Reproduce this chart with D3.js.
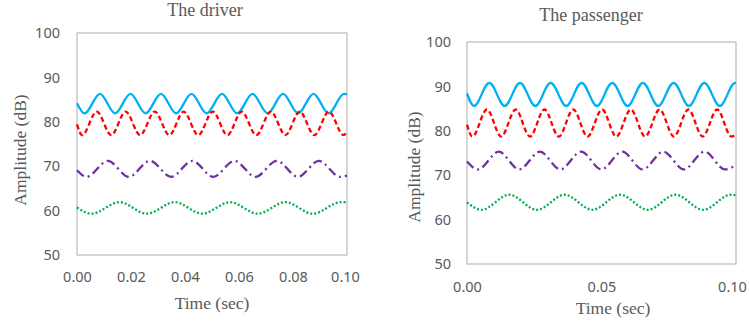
<!DOCTYPE html>
<html>
<head>
<meta charset="utf-8">
<script src="https://cdn.jsdelivr.net/npm/d3@7"></script>
<style>
  body { margin: 0; background: #ffffff; }
</style>
</head>
<body>
<div id="chart"></div>
<script>
// values: [time (s), amplitude (dB)] at start, troughs, peaks, end
var yTicks = [50, 60, 70, 80, 90, 100];
var driverXTicks = [0, 0.02, 0.04, 0.06, 0.08, 0.10];
var passengerXTicks = [0, 0.05, 0.10];

var driverBlue = [[0,84.2],[0.0028,81.9],[0.0085,86.3],[0.0141,81.9],[0.0198,86.3],[0.0254,81.9],[0.0311,86.3],[0.0367,81.9],[0.0424,86.3],[0.0480,81.9],[0.0537,86.3],[0.0593,81.9],[0.0650,86.3],[0.0706,81.9],[0.0763,86.3],[0.0819,81.9],[0.0876,86.3],[0.0932,81.9],[0.0989,86.3],[0.1,86.2]];
var driverRed = [[0,79.4],[0.0019,77.0],[0.0073,82.3],[0.0127,77.0],[0.0180,82.3],[0.0234,77.0],[0.0288,82.3],[0.0342,77.0],[0.0395,82.3],[0.0449,77.0],[0.0503,82.3],[0.0557,77.0],[0.0610,82.3],[0.0664,77.0],[0.0718,82.3],[0.0772,77.0],[0.0825,82.3],[0.0879,77.0],[0.0933,82.3],[0.0987,77.0],[0.1,77.7]];
var driverPurple = [[0,69.1],[0.0036,67.6],[0.0114,71.2],[0.0192,67.6],[0.0270,71.2],[0.0349,67.6],[0.0427,71.2],[0.0505,67.6],[0.0583,71.2],[0.0661,67.6],[0.0740,71.2],[0.0818,67.6],[0.0896,71.2],[0.0974,67.6],[0.1,67.9]];
var driverGreen = [[0,60.7],[0.0054,59.3],[0.0157,61.9],[0.0259,59.3],[0.0362,61.9],[0.0464,59.3],[0.0567,61.9],[0.0669,59.3],[0.0772,61.9],[0.0874,59.3],[0.0977,61.9],[0.1,61.9]];

var passengerBlue = [[0,88.4],[0.0026,85.6],[0.0083,90.8],[0.0140,85.6],[0.0197,90.8],[0.0254,85.6],[0.0311,90.8],[0.0369,85.6],[0.0426,90.8],[0.0483,85.6],[0.0540,90.8],[0.0597,85.6],[0.0654,90.8],[0.0711,85.6],[0.0768,90.8],[0.0825,85.6],[0.0882,90.8],[0.0940,85.6],[0.0997,90.8],[0.1,90.8]];
var passengerRed = [[0,81.4],[0.0020,78.7],[0.0074,84.8],[0.0127,78.7],[0.0181,84.8],[0.0234,78.7],[0.0288,84.8],[0.0341,78.7],[0.0395,84.8],[0.0448,78.7],[0.0502,84.8],[0.0555,78.7],[0.0609,84.8],[0.0662,78.7],[0.0716,84.8],[0.0769,78.7],[0.0823,84.8],[0.0876,78.7],[0.0930,84.8],[0.0983,78.7],[0.1,79.4]];
var passengerPurple = [[0,73.1],[0.0041,71.3],[0.0118,75.3],[0.0194,71.3],[0.0271,75.3],[0.0347,71.3],[0.0424,75.3],[0.0500,71.3],[0.0577,75.3],[0.0653,71.3],[0.0730,75.3],[0.0806,71.3],[0.0883,75.3],[0.0959,71.3],[0.1,72.3]];
var passengerGreen = [[0,63.9],[0.0054,62.2],[0.0157,65.6],[0.0260,62.2],[0.0363,65.6],[0.0466,62.2],[0.0569,65.6],[0.0672,62.2],[0.0775,65.6],[0.0878,62.2],[0.0981,65.6],[0.1,65.5]];

(function () {
  var width = 749,
    height = 324;

  var svg = d3.select("#chart")
    .append("svg")
    .attr("width", width)
    .attr("height", height)
    .style("font-family", '"Noto Sans", sans-serif')

  svg.append("rect")
    .attr("width", width)
    .attr("height", height)
    .attr("fill", "#ffffff")

  // line styles for the four series
  var styles = [
    { color: "#00b0f0", dash: null },
    { color: "#ff0000", dash: "5,3" },
    { color: "#7030a0", dash: "9,4,2,4" },
    { color: "#00b050", dash: "2,2" }
  ]

  function panel(opt) {
    var x = d3.scaleLinear().domain([0, 0.1]).range([opt.left, opt.right])
    var y = d3.scaleLinear().domain([50, 100]).range([opt.bottom, opt.top])

    var g = svg.append("g")

    g.append("rect")
      .attr("x", opt.left)
      .attr("y", opt.top)
      .attr("width", opt.right - opt.left)
      .attr("height", opt.bottom - opt.top)
      .attr("fill", "none")
      .attr("stroke", "#bfbfbf")
      .attr("stroke-width", 1.3)

    var yAxis = g.append("g")
      .attr("transform", "translate(" + opt.left + ",0)")
      .call(d3.axisLeft(y).tickValues(yTicks).tickSize(0).tickPadding(opt.yPad))
    yAxis.select(".domain").remove()
    yAxis.selectAll("text")
      .attr("fill", "#595959")
      .style("font-size", "14.5px")
      .style("font-family", '"Noto Sans", sans-serif')

    var xAxis = g.append("g")
      .attr("transform", "translate(0," + opt.bottom + ")")
      .call(d3.axisBottom(x).tickValues(opt.xTicks).tickFormat(d3.format(".2f")).tickSize(0).tickPadding(opt.xPad))
    xAxis.select(".domain").remove()
    xAxis.selectAll("text")
      .attr("fill", "#595959")
      .style("font-size", "14.5px")
      .style("font-family", '"Noto Sans", sans-serif')
    // keep the last label inside the picture
    xAxis.selectAll(".tick:last-of-type text").attr("dx", opt.lastShift)

    var line = d3.line()
      .x(function (d) { return x(d[0]) })
      .y(function (d) { return y(d[1]) })
      .curve(d3.curveMonotoneX)

    opt.series.forEach(function (s, i) {
      g.append("path")
        .datum(s)
        .attr("d", line)
        .attr("fill", "none")
        .attr("stroke", styles[i].color)
        .attr("stroke-width", 2.3)
        .attr("stroke-dasharray", styles[i].dash)
    })

    svg.append("text")
      .attr("x", opt.titleX)
      .attr("y", opt.titleY)
      .attr("text-anchor", "middle")
      .attr("fill", "#595959")
      .style("font-family", '"Liberation Serif", serif')
      .style("font-size", "18px")
      .text(opt.title)

    svg.append("text")
      .attr("x", opt.xLabelX)
      .attr("y", opt.xLabelY)
      .attr("text-anchor", "middle")
      .attr("fill", "#595959")
      .style("font-family", '"Liberation Serif", serif')
      .style("font-size", "17.5px")
      .text("Time (sec)")

    svg.append("text")
      .attr("transform", "translate(" + opt.yLabelX + "," + opt.yLabelY + ") rotate(-90)")
      .attr("text-anchor", "middle")
      .attr("fill", "#595959")
      .style("font-family", '"Liberation Serif", serif')
      .style("font-size", "17.5px")
      .text("Amplitude (dB)")
  }

  panel({
    left: 77, right: 347, top: 33, bottom: 255,
    xTicks: driverXTicks, xPad: 17, yPad: 17, lastShift: -2,
    series: [driverBlue, driverRed, driverPurple, driverGreen],
    title: "The driver", titleX: 205, titleY: 15.5,
    xLabelX: 212, xLabelY: 309,
    yLabelX: 26, yLabelY: 150
  })

  panel({
    left: 467, right: 736, top: 42, bottom: 264,
    xTicks: passengerXTicks, xPad: 18, yPad: 16, lastShift: -4,
    series: [passengerBlue, passengerRed, passengerPurple, passengerGreen],
    title: "The passenger", titleX: 591, titleY: 21,
    xLabelX: 613, xLabelY: 314,
    yLabelX: 420, yLabelY: 167
  })
})()
</script>
</body>
</html>
